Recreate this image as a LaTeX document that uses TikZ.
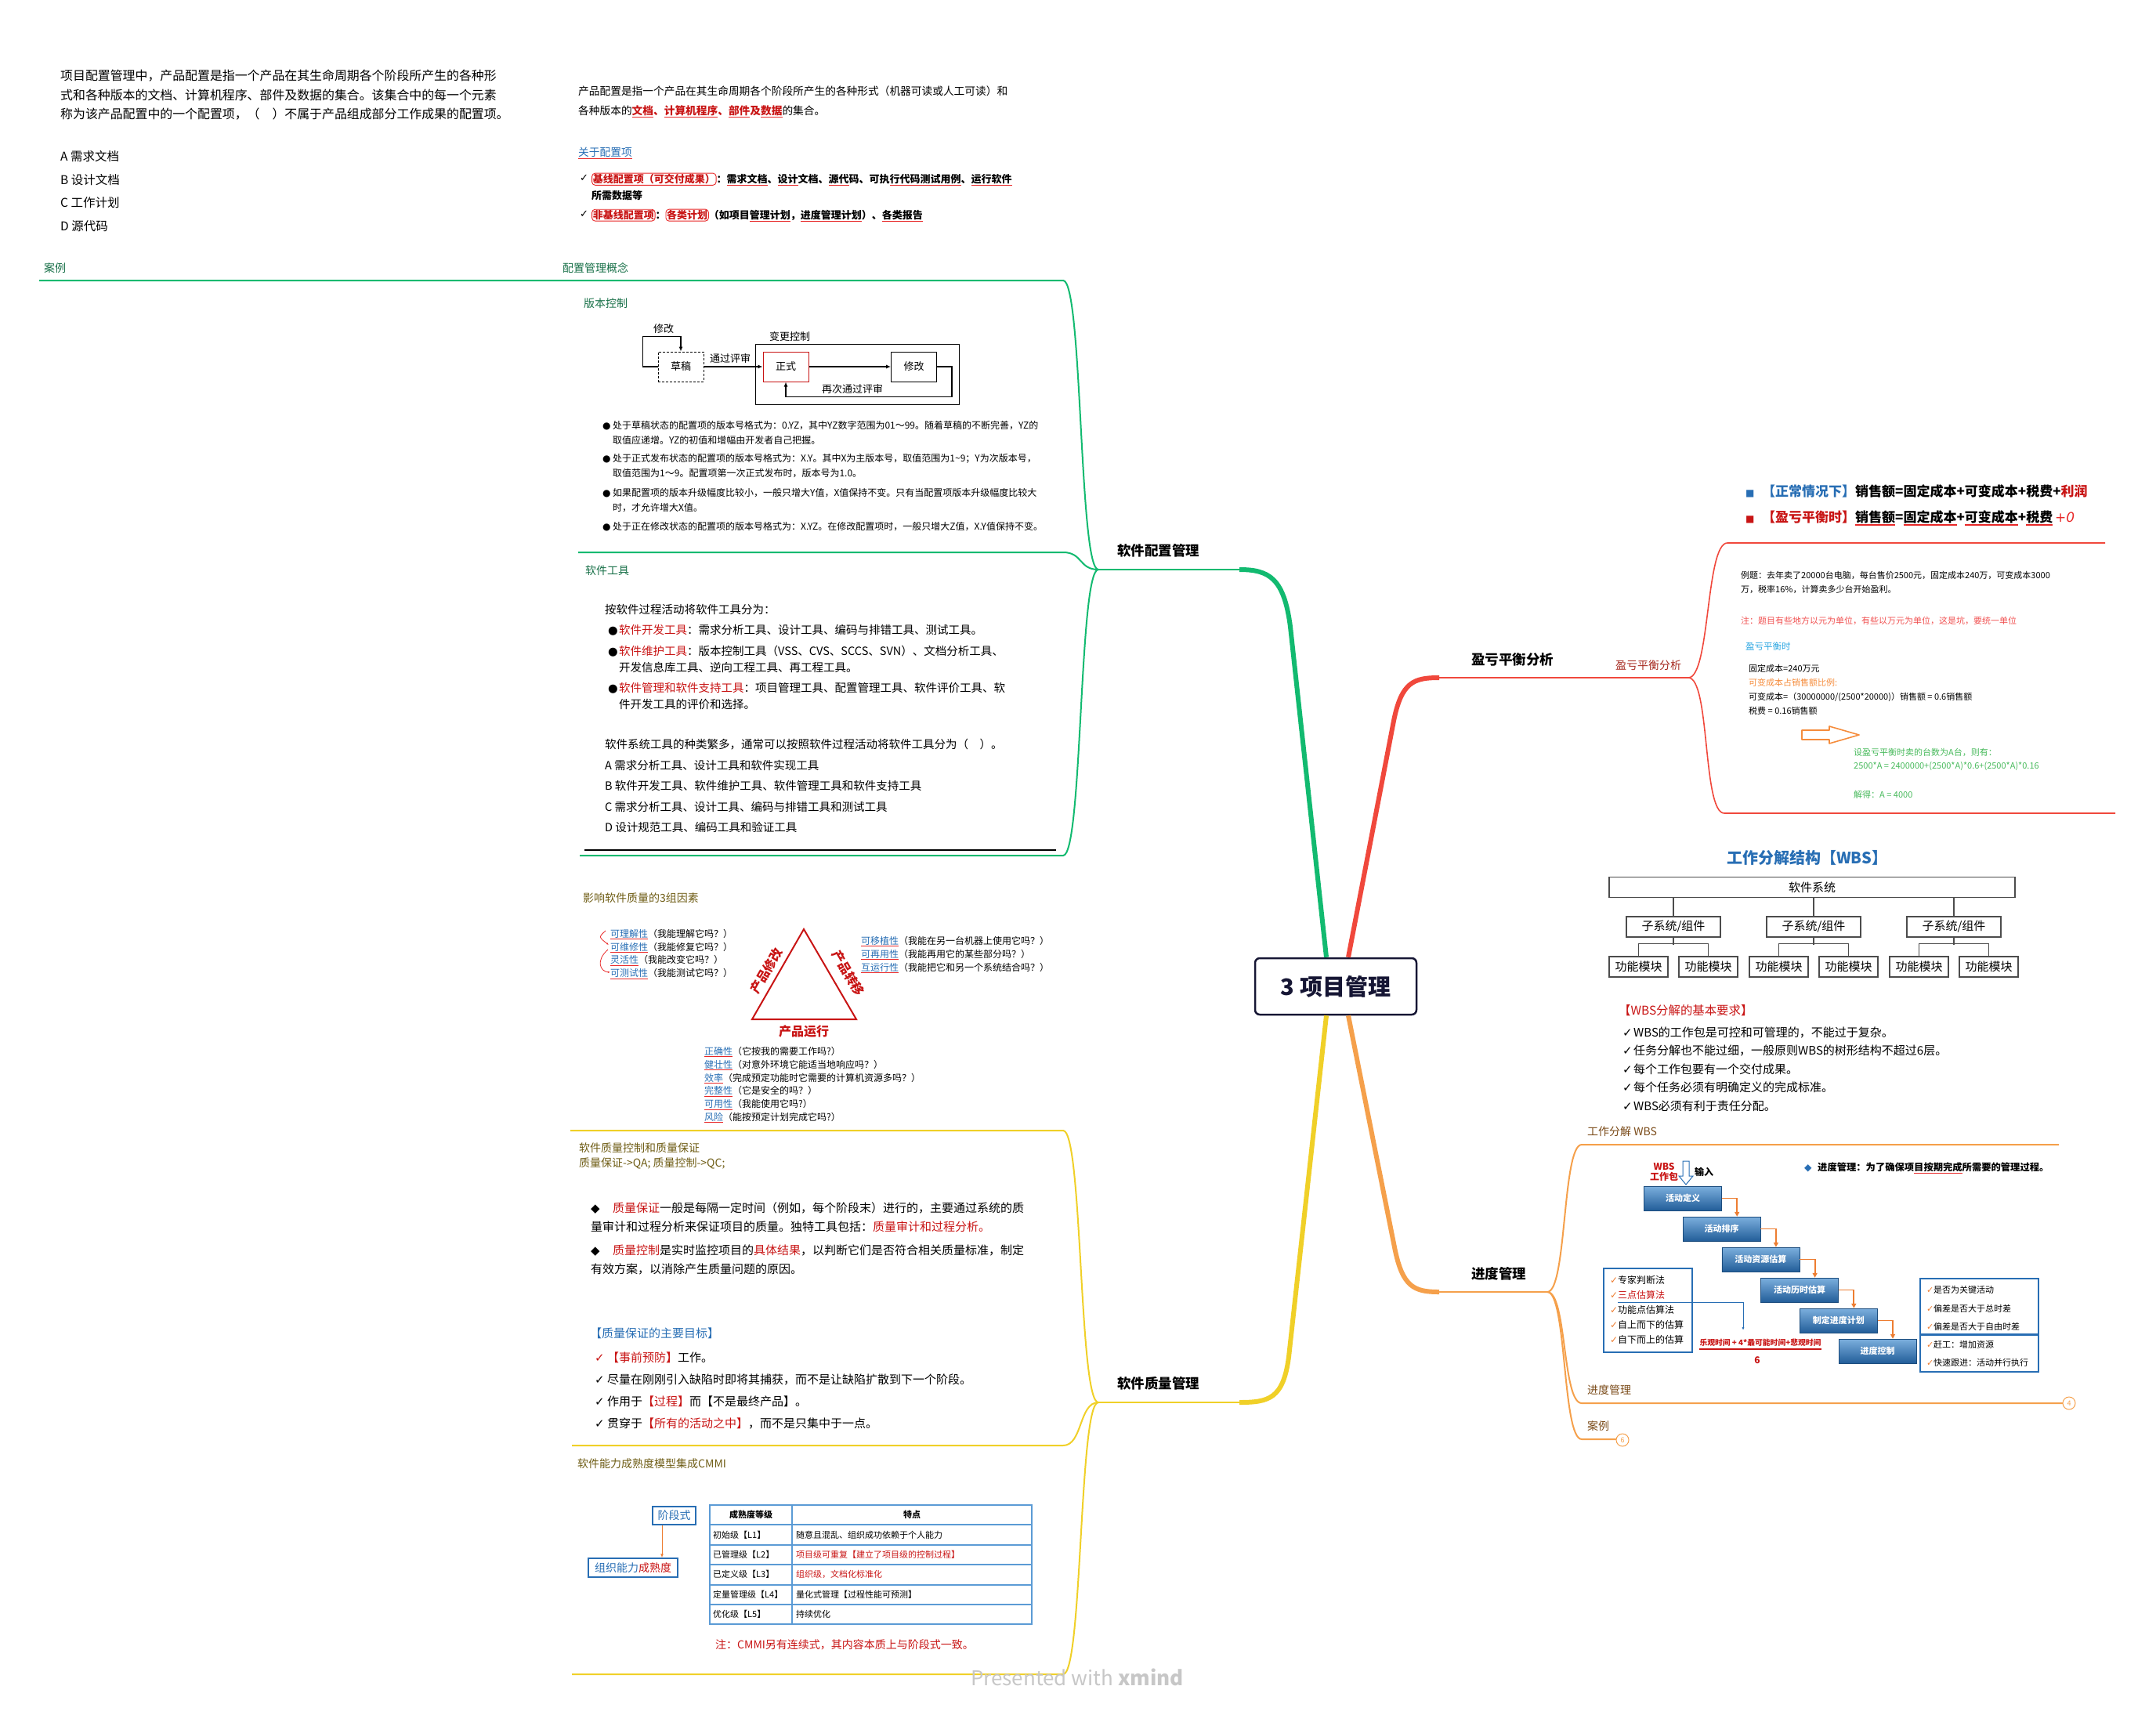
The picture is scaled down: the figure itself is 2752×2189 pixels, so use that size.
\documentclass[tikz,border=0pt]{standalone}
\usepackage{fontspec}
\setmainfont{Noto Sans CJK SC}
\newfontfamily\sym{DejaVu Sans}
\usetikzlibrary{arrows.meta,positioning}
\definecolor{mgreen}{RGB}{18,186,112}
\definecolor{dgreen}{RGB}{24,112,72}
\definecolor{mred}{RGB}{240,72,60}
\definecolor{dred}{RGB}{165,40,30}
\definecolor{morange}{RGB}{245,160,75}
\definecolor{obrown}{RGB}{122,74,24}
\definecolor{myellow}{RGB}{240,208,40}
\definecolor{qolive}{RGB}{110,92,20}
\definecolor{cred}{RGB}{200,20,20}
\definecolor{annred}{RGB}{232,40,40}
\definecolor{qblue}{RGB}{40,110,180}
\definecolor{lblue}{RGB}{40,165,225}
\definecolor{tblue}{RGB}{91,155,213}
\definecolor{sorange}{RGB}{237,125,49}
\definecolor{egreen}{RGB}{70,185,90}
\definecolor{eorange}{RGB}{245,140,60}
\definecolor{lred}{RGB}{240,80,80}
\definecolor{hubline}{RGB}{22,22,52}
\tikzset{
  txt/.style={inner sep=0pt, anchor=north west, align=left},
  lbl/.style={inner sep=0pt, anchor=west},
  hub/.style={draw=hubline, line width=2.5pt, rounded corners=6pt, fill=white, minimum width=206pt, minimum height=72pt, text=hubline, font=\bfseries\fontsize{29}{34}\selectfont},
  maintopic/.style={lbl, font=\bfseries\fontsize{17.5}{20}\selectfont},
  subtopic/.style={lbl, font=\fontsize{14}{16}\selectfont},
  trunk/.style={line width=6pt},
  twig/.style={line width=2pt},
  vcbox/.style={draw, line width=1pt, minimum width=58pt, minimum height=38pt, inner sep=0pt, font=\fontsize{13}{15}\selectfont},
  vcarrow/.style={-{Latex[length=6pt,width=5pt]}, line width=1.1pt},
  wbsbox/.style={draw=black!70, line width=1.1pt, minimum height=26pt, inner sep=0pt, font=\fontsize{15}{17}\selectfont},
  wbsline/.style={draw=black!70, line width=1.1pt},
  schbox/.style={top color=tblue!80!white, bottom color=qblue!85!black, draw=qblue!70!black, text=white, minimum width=99pt, minimum height=31pt, inner sep=0pt, font=\bfseries\fontsize{11}{13}\selectfont},
  sarrow/.style={-{Triangle[length=6pt,width=6pt]}, sorange, line width=1.8pt},
  chkbox/.style={draw=qblue, line width=1.2pt, inner sep=0pt},
  tbl/.style={draw=tblue, line width=1.2pt},
  cell/.style={lbl, font=\fontsize{11}{13}\selectfont},
  ocount/.style={circle, draw=morange, fill=white, line width=1pt, minimum size=16pt, inner sep=0pt, text=morange, font=\fontsize{9}{10}\selectfont}
}
\newsavebox{\rulbox}
\newcommand{\rul}[1]{\sbox{\rulbox}{#1}\rlap{\textcolor{annred}{\rule[-0.24em]{\wd\rulbox}{0.075em}}}\usebox{\rulbox}}
\newcommand{\rbox}[1]{\tikz[baseline=(rb.base)]\node[draw=annred, rounded corners=4pt, line width=0.9pt, inner sep=1.2pt] (rb) {#1};}
\newcommand{\fs}[2]{\fontsize{#1}{#2}\selectfont}
\newcommand{\ck}{{\sym\mdseries ✓}}
\newcommand{\bul}[1]{\makebox[#1][l]{\sym\mdseries ●}}

\begin{document}
\begin{tikzpicture}[x=1pt, y=-1pt]
\useasboundingbox (0,0) rectangle (2752,2189);

% centre and branch junctions
\node[hub] (hub) at (1705,1259) {3 项目管理};
\coordinate (gJ) at (1402,727);
\coordinate (yJ) at (1402,1790);
\coordinate (rJ) at (2155,865);
\coordinate (oJ) at (1975,1649);

% main branches
\draw[trunk, mgreen] ([xshift=-12pt]hub.north) -- (1647,800) .. controls (1639,738) and (1620,727) .. (1582,727);
\draw[twig, mgreen, line width=2.5pt] (1584,727) -- (gJ);
\draw[trunk, mred] ([xshift=16pt]hub.north) -- (1779,920) .. controls (1789,870) and (1805,865) .. (1837,865);
\draw[twig, mred] (1835,865) -- (rJ);
\draw[trunk, morange] ([xshift=16pt]hub.south) -- (1780,1592) .. controls (1790,1643) and (1805,1649) .. (1837,1649);
\draw[twig, morange] (1835,1649) -- (oJ);
\draw[trunk, myellow] ([xshift=-12pt]hub.south) -- (1645,1732) .. controls (1638,1785) and (1620,1790) .. (1582,1790);
\draw[twig, myellow] (1584,1790) -- (yJ);

\node[maintopic] (tcfg) at (1426,703) {软件配置管理};
\node[maintopic] (tbep) at (1878,842) {盈亏平衡分析};
\node[maintopic] (tsch) at (1878,1626) {进度管理};
\node[maintopic] (tqua) at (1426,1766) {软件质量管理};

% green: sub branches
\draw[twig, mgreen] (gJ) .. controls +(-25,0) and +(25,0) .. (1357,358) -- (50,358);
\draw[twig, mgreen] (gJ) .. controls +(-25,0) and +(25,0) .. (1357,705) -- (738,705);
\draw[twig, mgreen] (gJ) .. controls +(-25,0) and +(25,0) .. (1357,1092) -- (740,1092);

% case question
\node[txt, font=\fs{15.9}{24.5}] (qcase) at (77,89) {项目配置管理中，产品配置是指一个产品在其生命周期各个阶段所产生的各种形\\式和各种版本的文档、计算机程序、部件及数据的集合。该集合中的每一个元素\\称为该产品配置中的一个配置项，（\quad）不属于产品组成部分工作成果的配置项。};
\node[txt, font=\fs{15.5}{29.7}] (qopts) at (77,192) {A 需求文档\\B 设计文档\\C 工作计划\\D 源代码};
\node[subtopic, text=dgreen] (gcase) at (56,342) {案例};

% configuration concept
\node[txt, font=\fs{13.7}{25}] (cfgdef) at (738,110) {产品配置是指一个产品在其生命周期各个阶段所产生的各种形式（机器可读或人工可读）和\\各种版本的{\bfseries\color{cred}\rul{文档}、\rul{计算机程序}、\rul{部件}及\rul{数据}}的集合。};
\node[txt, font=\fs{13.7}{16}, text=qblue] (cfgabout) at (738,188) {\rul{关于配置项}};
\node[lbl, font=\fs{13}{15}] (ck1) at (740,227) {\ck};
\node[txt, font=\bfseries\fs{13}{21}] (cfgbase) at (755,220.5) {\rbox{\textcolor{cred}{基线配置项（可交付成果）}}：\rul{需求文档}、\rul{设计}文档、\rul{源代}码、可执\rul{行代码测试用例}、\rul{运行软件}\\所需数据等};
\node[lbl, font=\fs{13}{15}] (ck2) at (740,273) {\ck};
\node[txt, font=\bfseries\fs{13}{15}] (cfgnon) at (755,266.5) {\rbox{\textcolor{cred}{非基线配置项}}：\rbox{\textcolor{cred}{各类计划}}（如项目\rul{管理计划}，\rul{进度管理计划}）、\rul{各类报告}};
\node[subtopic, text=dgreen] (gconcept) at (718,342) {配置管理概念};

% version control
\node[subtopic, text=dgreen] (gver) at (745,387) {版本控制};
\node[vcbox, densely dashed] (vdraft) at (869,468) {草稿};
\node[vcbox, draw=cred] (vformal) at (1003,468) {正式};
\node[vcbox] (vmod) at (1166.5,468) {修改};
\node[draw, line width=1pt, minimum width=260pt, minimum height=77pt, inner sep=0pt] (vframe) at (1094,477.5) {};
\node[inner sep=0pt, font=\fs{13}{15}] (vloopl) at (847,420) {修改};
\node[inner sep=0pt, font=\fs{13}{15}] (vframel) at (1008,430) {变更控制};
\node[inner sep=0pt, font=\fs{13}{15}] (vpassl) at (932,458) {通过评审};
\node[inner sep=0pt, font=\fs{13}{15}] (vagainl) at (1088,497) {再次通过评审};
\draw[vcarrow] (vdraft.west) -- ++(-19,0) |- ([yshift=19pt]vdraft.north) -- (vdraft.north);
\draw[vcarrow] (vdraft.east) -- (vformal.west);
\draw[vcarrow] (vformal.east) -- (vmod.west);
\draw[vcarrow] (vmod.east) -- ++(19,0) |- ([yshift=-19pt]vformal.south) -- (vformal.south);
\node[txt, font=\fs{12}{19.5}] (vb1) at (769,537) {\bul{13pt}处于草稿状态的配置项的版本号格式为：0.YZ，其中YZ数字范围为01～99。随着草稿的不断完善，YZ的\\\hspace*{13pt}取值应递增。YZ的初值和增幅由开发者自己把握。};
\node[txt, font=\fs{12}{19.5}] (vb2) at (769,579) {\bul{13pt}处于正式发布状态的配置项的版本号格式为：X.Y。其中X为主版本号，取值范围为1\textasciitilde9；Y为次版本号，\\\hspace*{13pt}取值范围为1～9。配置项第一次正式发布时，版本号为1.0。};
\node[txt, font=\fs{12}{19.5}] (vb3) at (769,623) {\bul{13pt}如果配置项的版本升级幅度比较小，一般只增大Y值，X值保持不变。只有当配置项版本升级幅度比较大\\\hspace*{13pt}时，才允许增大X值。};
\node[txt, font=\fs{12}{19.5}] (vb4) at (769,666) {\bul{13pt}处于正在修改状态的配置项的版本号格式为：X.YZ。在修改配置项时，一般只增大Z值，X.Y值保持不变。};

% software tools
\node[subtopic, text=dgreen] (gtool) at (747,728) {软件工具};
\node[txt, font=\fs{14.5}{16}] (tintro) at (772,771) {按软件过程活动将软件工具分为：};
\node[txt, font=\fs{14.5}{21}] (tdev) at (776,797) {\bul{14pt}\textcolor{cred}{软件开发工具}：需求分析工具、设计工具、编码与排错工具、测试工具。};
\node[txt, font=\fs{14.5}{21}] (tmnt) at (776,824) {\bul{14pt}\textcolor{cred}{软件维护工具}：版本控制工具（VSS、CVS、SCCS、SVN）、文档分析工具、\\\hspace*{14pt}开发信息库工具、逆向工程工具、再工程工具。};
\node[txt, font=\fs{14.5}{21}] (tsup) at (776,871) {\bul{14pt}\textcolor{cred}{软件管理和软件支持工具}：项目管理工具、配置管理工具、软件评价工具、软\\\hspace*{14pt}件开发工具的评价和选择。};
\node[txt, font=\fs{14.5}{26.5}] (tques) at (772,943) {软件系统工具的种类繁多，通常可以按照软件过程活动将软件工具分为（\quad）。\\A 需求分析工具、设计工具和软件实现工具\\B 软件开发工具、软件维护工具、软件管理工具和软件支持工具\\C 需求分析工具、设计工具、编码与排错工具和测试工具\\D 设计规范工具、编码工具和验证工具};
\draw[line width=2.5pt] (746,1085) -- (1348,1085);

% yellow: sub branches
\draw[twig, myellow] (yJ) .. controls +(-25,0) and +(25,0) .. (1357,1443) -- (728,1443);
\draw[twig, myellow] (yJ) .. controls +(-25,0) and +(25,0) .. (1357,1845) -- (730,1845);
\draw[twig, myellow] (yJ) .. controls +(-25,0) and +(25,0) .. (1357,2137) -- (730,2137);

% quality factors
\node[subtopic, text=qolive] (qfac) at (744,1146) {影响软件质量的3组因素};
\coordinate (tA) at (1026,1186);
\coordinate (tL) at (960,1301);
\coordinate (tR) at (1093,1301);
\draw[cred, line width=2pt, line join=miter] (tA) -- (tL) -- (tR) -- cycle;
\node[rotate=60, inner sep=0pt, text=cred, font=\bfseries\fs{16}{18}] (qrev) at (978,1239) {产品修改};
\node[rotate=-60, inner sep=0pt, text=cred, font=\bfseries\fs{16}{18}] (qtra) at (1083,1242) {产品转移};
\node[inner sep=0pt, text=cred, font=\bfseries\fs{16}{18}] (qope) at (1026,1316) {产品运行};
\node[txt, font=\fs{12}{16.7}] (qlrev) at (779,1186) {\textcolor{qblue}{\rul{可理解性}}（我能理解它吗？）\\\textcolor{qblue}{\rul{可维修性}}（我能修复它吗？）\\\textcolor{qblue}{\rul{灵活性}}（我能改变它吗？）\\\textcolor{qblue}{\rul{可测试性}}（我能测试它吗？）};
\draw[annred, line width=0.8pt, -{Latex[length=3pt]}] (773,1188) .. controls (764,1196) .. (777,1206);
\draw[annred, line width=0.8pt, -{Latex[length=3pt]}] (776,1212) .. controls (760,1226) and (766,1240) .. (779,1241);
\node[txt, font=\fs{12}{17}] (qltra) at (1099,1195) {\textcolor{qblue}{\rul{可移植性}}（我能在另一台机器上使用它吗？）\\\textcolor{qblue}{\rul{可再用性}}（我能再用它的某些部分吗？）\\\textcolor{qblue}{\rul{互运行性}}（我能把它和另一个系统结合吗？）};
\node[txt, font=\fs{12}{16.8}] (qlope) at (899,1336) {\textcolor{qblue}{\rul{正确性}}（它按我的需要工作吗?）\\\textcolor{qblue}{\rul{健壮性}}（对意外环境它能适当地响应吗？）\\\textcolor{qblue}{\rul{效率}}（完成预定功能时它需要的计算机资源多吗？）\\\textcolor{qblue}{\rul{完整性}}（它是安全的吗？）\\\textcolor{qblue}{\rul{可用性}}（我能使用它吗?）\\\textcolor{qblue}{\rul{风险}}（能按预定计划完成它吗?）};

% quality assurance and control
\node[txt, font=\fs{14}{19}, text=qolive] (qaqc) at (739,1459) {软件质量控制和质量保证\\质量保证->QA; 质量控制->QC;};
\node[txt, font=\fs{15}{24.3}] (qapara) at (754,1534.5) {\makebox[28pt][l]{\sym ◆}\textcolor{cred}{质量保证}一般是每隔一定时间（例如，每个阶段末）进行的，主要通过系统的质\\量审计和过程分析来保证项目的质量。独特工具包括：\textcolor{cred}{质量审计和过程分析。}};
\node[txt, font=\fs{15}{24.3}] (qcpara) at (754,1588.5) {\makebox[28pt][l]{\sym ◆}\textcolor{cred}{质量控制}是实时监控项目的\textcolor{cred}{具体结果}，以判断它们是否符合相关质量标准，制定\\有效方案，以消除产生质量问题的原因。};
\node[txt, font=\fs{15}{17}, text=qblue] (qagoal) at (753,1694.5) {【质量保证的主要目标】};
\node[txt, font=\fs{15}{28}] (qagoals) at (759,1725.5) {\textcolor{cred}{\makebox[16pt][l]{\ck}【事前预防】}工作。\\\makebox[16pt][l]{\ck}尽量在刚刚引入缺陷时即将其捕获，而不是让缺陷扩散到下一个阶段。\\\makebox[16pt][l]{\ck}作用于\textcolor{cred}{【过程】}而【不是最终产品】。\\\makebox[16pt][l]{\ck}贯穿于\textcolor{cred}{【所有的活动之中】}，而不是只集中于一点。};

% CMMI
\node[subtopic, text=qolive] (qcmmi) at (737,1868) {软件能力成熟度模型集成CMMI};
\node[draw=qblue, line width=1.2pt, text=qblue, font=\fs{14}{16}, minimum width=55pt, minimum height=23pt, inner sep=0pt] (cstage) at (860.5,1934.5) {阶段式};
\node[draw=qblue, line width=1.2pt, text=qblue, font=\fs{14}{16}, minimum width=114pt, minimum height=24pt, inner sep=0pt] (corg) at (808,2001) {组织能力\textcolor{cred}{成熟度}};
\draw[sorange, line width=1pt, -{Latex[length=5pt]}] ([xshift=-15.5pt]cstage.south) -- ([xshift=-15.5pt]cstage.south |- corg.north);
\draw[tbl] (906,1921) rectangle (1317,2073);
\draw[tbl] (1011,1921) -- (1011,2073);
\foreach \yy in {1946,1972,1997,2023,2048} \draw[tbl] (906,\yy) -- (1317,\yy);
\node[inner sep=0pt, font=\bfseries\fs{11}{13}] (chead1) at (958.5,1933.5) {成熟度等级};
\node[inner sep=0pt, font=\bfseries\fs{11}{13}] (chead2) at (1164,1933.5) {特点};
\foreach \lv/\ft [count=\r] in {初始级【L1】/随意且混乱、组织成功依赖于个人能力, 已管理级【L2】/{\textcolor{cred}{项目级可重复【建立了项目级的控制过程】}}, 已定义级【L3】/{\textcolor{cred}{组织级，文档化标准化}}, 定量管理级【L4】/量化式管理【过程性能可预测】, 优化级【L5】/持续优化} {
  \node[cell] (clv\r) at (910,{1933.5+25.4*\r}) {\lv};
  \node[cell] (cft\r) at (1016,{1933.5+25.4*\r}) {\ft};
}
\node[txt, font=\fs{14}{16}, text=cred] (cnote) at (913,2092) {注：CMMI另有连续式，其内容本质上与阶段式一致。};

% break-even analysis
\draw[twig, mred, line width=1.6pt] (rJ) .. controls +(28,0) and +(-28,0) .. (2205,693) -- (2687,693);
\draw[twig, mred, line width=1.6pt] (rJ) .. controls +(28,0) and +(-28,0) .. (2201,1038) -- (2700,1038);
\node[subtopic, text=dred] (bsub) at (2062,849) {盈亏平衡分析};
\node[txt, font=\bfseries\fs{17}{33}] (bform) at (2228,618.5) {\makebox[21pt][l]{\textcolor{qblue}{\sym\fs{12}{12}■}}\textcolor{qblue}{【正常情况下】}销售额=固定成本+可变成本+税费+\textcolor{cred}{利润}\\\makebox[21pt][l]{\textcolor{cred}{\sym\fs{12}{12}■}}\textcolor{cred}{【盈亏平衡时】}\rul{销售额}=\rul{固定成本}+\rul{可变成本}+\rul{税费}\,\textcolor{annred}{\sym\mdseries\itshape +0}};
\node[txt, font=\fs{11}{18}] (bex) at (2222,728.5) {例题：去年卖了20000台电脑，每台售价2500元，固定成本240万，可变成本3000\\万，税率16\%，计算卖多少台开始盈利。};
\node[txt, font=\fs{11}{13}, text=lred] (bwarn) at (2222,786.5) {注：题目有些地方以元为单位，有些以万元为单位，这是坑，要统一单位};
\node[txt, font=\fs{11.5}{13}, text=lblue] (bbal) at (2228,819.5) {盈亏平衡时};
\node[txt, font=\fs{11}{18}] (bcalc) at (2232,847.5) {固定成本=240万元\\\textcolor{eorange}{可变成本占销售额比例:}\\可变成本=（30000000/(2500*20000)）销售额 = 0.6销售额\\税费 = 0.16销售额};
\draw[eorange, line width=1.6pt, line join=round] (2300,932) -- (2335,932) -- (2335,927) -- (2373,938) -- (2335,949) -- (2335,944) -- (2300,944) -- cycle;
\node[txt, font=\fs{11}{17}, text=egreen] (bset) at (2366,955.5) {设盈亏平衡时卖的台数为A台，则有：\\2500*A = 2400000+(2500*A)*0.6+(2500*A)*0.16};
\node[txt, font=\fs{11}{13}, text=egreen] (bsol) at (2366,1009.5) {解得：A = 4000};

% WBS
\node[txt, font=\bfseries\fs{20}{22}, text=qblue] (wtitle) at (2204,1085) {工作分解结构【WBS】};
\node[wbsbox, minimum width=518pt] (wsys) at (2313,1132.5) {软件系统};
\foreach \i/\xx in {1/2136,2/2315,3/2494} {
  \node[wbsbox, minimum width=120pt] (wsub\i) at (\xx,1183) {子系统/组件};
  \draw[wbsline] (wsub\i.north) -- (wsub\i.north |- wsys.south);
}
\foreach \i/\xx in {1/2091.5,2/2180.5,3/2270.5,4/2359.5,5/2449.5,6/2538.5}
  \node[wbsbox, minimum width=75pt] (wfn\i) at (\xx,1234) {功能模块};
\foreach \s/\a/\b in {1/1/2,2/3/4,3/5/6} {
  \draw[wbsline] (wfn\a.north) -- ++(0,-16) -| (wfn\b.north);
  \draw[wbsline] (wsub\s.south) -- ++(0,9);
}
\node[txt, font=\fs{15.4}{17}, text=cred] (wreq) at (2066,1282) {【WBS分解的基本要求】};
\node[txt, font=\fs{15}{23.5}] (wreqs) at (2071,1310.5) {\makebox[14pt][l]{\ck}WBS的工作包是可控和可管理的，不能过于复杂。\\\makebox[14pt][l]{\ck}任务分解也不能过细，一般原则WBS的树形结构不超过6层。\\\makebox[14pt][l]{\ck}每个工作包要有一个交付成果。\\\makebox[14pt][l]{\ck}每个任务必须有明确定义的完成标准。\\\makebox[14pt][l]{\ck}WBS必须有利于责任分配。};

% schedule management
\draw[twig, morange] (oJ) .. controls +(25,0) and +(-25,0) .. (2019,1461) -- (2628,1461);
\draw[twig, morange] (oJ) .. controls +(25,0) and +(-25,0) .. (2019,1791) -- (2633,1791);
\draw[twig, morange] (oJ) .. controls +(25,0) and +(-25,0) .. (2019,1837) -- (2063,1837);
\node[ocount] (oc4) at (2641,1791) {4};
\node[ocount] (oc6) at (2071,1838) {6};
\node[subtopic, text=obrown] (owbs) at (2026,1444) {工作分解 WBS};
\node[subtopic, text=obrown] (osch) at (2026,1774) {进度管理};
\node[subtopic, text=obrown] (ocase) at (2026,1820) {案例};
\node[inner sep=0pt, align=center, text=cred, font=\bfseries\fs{12}{13}] (swp) at (2124,1496) {WBS\\工作包};
\draw[qblue, line width=1pt] (2148,1482) -- (2156,1482) -- (2156,1501) -- (2161,1501) -- (2152,1512) -- (2143,1501) -- (2148,1501) -- cycle;
\node[inner sep=0pt, font=\bfseries\fs{12}{13}] (sin) at (2175,1496) {输入};
\node[lbl, font=\bfseries\fs{12.3}{14}] (sdef) at (2303,1491) {\makebox[17pt][l]{\textcolor{qblue}{\sym ◆}}进度管理：为了确保项\rul{目}\rul{按期完成}所需要的管理过程。};
\foreach \nm [count=\i] in {活动定义,活动排序,活动资源估算,活动历时估算,制定进度计划,进度控制}
  \node[schbox] (act\i) at ({2148+49.7*(\i-1)},{1529.5+39*(\i-1)}) {\nm};
\foreach \i/\j in {1/2,2/3,3/4,4/5,5/6}
  \draw[sarrow] (act\i.east) -| ([xshift=19.5pt]act\j.north);
\node[chkbox, minimum width=113pt, minimum height=107pt] (sest) at (2103.5,1672.5) {};
\node[txt, font=\fs{12}{19}] (sestl) at (2055,1628) {\makebox[10pt][l]{\textcolor{sorange}{\ck}}专家判断法\\\makebox[10pt][l]{\textcolor{sorange}{\ck}}\textcolor{cred}{三点估算法}\\\makebox[10pt][l]{\textcolor{sorange}{\ck}}功能点估算法\\\makebox[10pt][l]{\textcolor{sorange}{\ck}}自上而下的估算\\\makebox[10pt][l]{\textcolor{sorange}{\ck}}自下而上的估算};
\node[inner sep=0pt, text=cred, font=\bfseries\fs{9.8}{11}] (spert) at (2247,1714) {乐观时间 + 4*最可能时间+悲观时间};
\draw[cred, line width=1.2pt] (spert.south west) ++(0,3) -- ([yshift=-3pt]spert.south east);
\node[inner sep=0pt, text=cred, font=\bfseries\fs{12}{13}] (spert6) at (2243,1736) {6};
\coordinate (stri) at (2065,1662);
\draw[qblue, line width=1pt, -{Latex[length=4pt]}] (stri) -| (2225,1698);
\node[chkbox, minimum width=151pt, minimum height=71pt] (sbox1) at (2526.5,1667.5) {};
\node[chkbox, minimum width=151pt, minimum height=47pt] (sbox2) at (2526.5,1727.5) {};
\node[txt, font=\fs{11}{23.5}] (sbox1l) at (2459,1641.5) {\makebox[9pt][l]{\textcolor{sorange}{\ck}}是否为关键活动\\\makebox[9pt][l]{\textcolor{sorange}{\ck}}偏差是否大于总时差\\\makebox[9pt][l]{\textcolor{sorange}{\ck}}偏差是否大于自由时差};
\node[txt, font=\fs{11}{23}] (sbox2l) at (2459,1711.5) {\makebox[9pt][l]{\textcolor{sorange}{\ck}}赶工：增加资源\\\makebox[9pt][l]{\textcolor{sorange}{\ck}}快速跟进：活动并行执行};

% footer
\node[inner sep=0pt, text=black!22, font=\fs{26}{28}] (wmark) at (1375,2141) {Presented with \textbf{xmind}};
\end{tikzpicture}
\end{document}
